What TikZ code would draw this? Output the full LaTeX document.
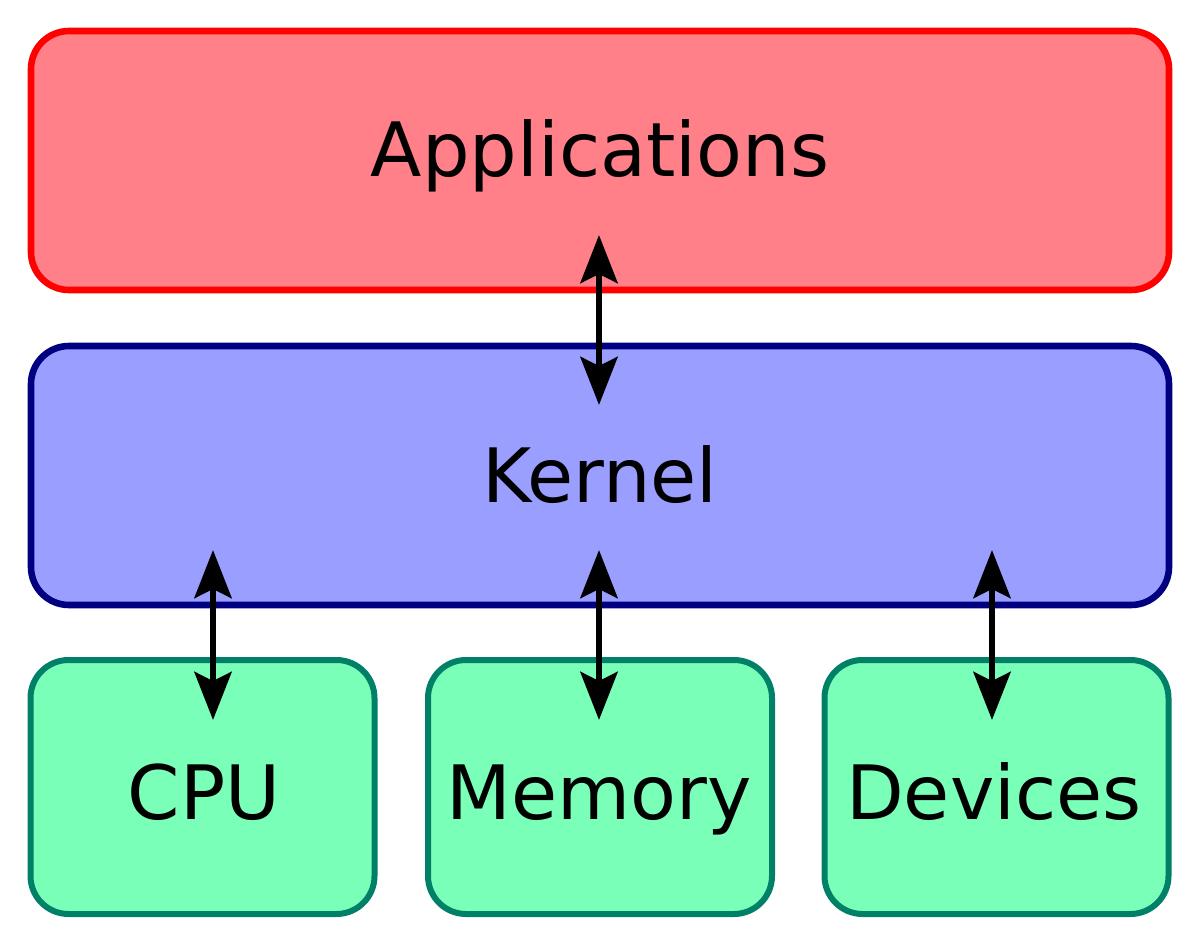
\documentclass[tikz,border=0pt]{standalone}
\usepackage{fontspec}
\setmainfont{DejaVu Sans}
\usetikzlibrary{arrows.meta}
\definecolor{appfill}{RGB}{255,128,136}
\definecolor{appline}{RGB}{255,0,0}
\definecolor{kerfill}{RGB}{153,158,255}
\definecolor{kerline}{RGB}{0,0,128}
\definecolor{hwfill}{RGB}{122,255,184}
\definecolor{hwline}{RGB}{0,128,102}
\tikzset{
  layerbox/.style={rectangle, rounded corners=38pt, inner sep=0pt, outer sep=0pt, line width=6.6pt},
  appbox/.style={layerbox, draw=appline, fill=appfill, minimum width=1138pt, minimum height=259pt},
  kerbox/.style={layerbox, draw=kerline, fill=kerfill, minimum width=1138pt, minimum height=259pt},
  hwbox/.style={layerbox, draw=hwline, fill=hwfill, line width=6pt, minimum width=344pt, minimum height=254pt},
  lbl/.style={anchor=base, inner sep=0pt, font=\fontsize{75}{90}\selectfont},
  biarrow/.style={line width=6.6pt, {Stealth[length=48pt,width=37pt,inset=9pt]}-{Stealth[length=48pt,width=37pt,inset=9pt]}}
}
\begin{document}
\begin{tikzpicture}[x=1pt,y=-1pt]
\useasboundingbox (0,0) rectangle (1200,949);
\node[appbox] (app) at (600,160.5) {};
\node[kerbox] (kern) at (600,475.5) {};
\node[hwbox] (cpu) at (202.5,787) {};
\node[hwbox] (mem) at (600,787) {};
\node[hwbox] (dev) at (996.5,787) {};
\node[lbl] (appT) at (600,177) {Applications};
\node[lbl] (kernT) at (600,502) {Kernel};
\node[lbl] (cpuT) at (204,819) {CPU};
\node[lbl] (memT) at (599,819) {Memory};
\node[lbl] (devT) at (994,819) {Devices};
\coordinate (ak1) at (599,235);
\coordinate (ak2) at (599,405);
\coordinate (kc1) at (213,550);
\coordinate (kc2) at (213,720);
\coordinate (km1) at (599,550);
\coordinate (km2) at (599,720);
\coordinate (kd1) at (992,550);
\coordinate (kd2) at (992,720);
\draw[biarrow] (ak1) -- (ak2);
\draw[biarrow] (kc1) -- (kc2);
\draw[biarrow] (km1) -- (km2);
\draw[biarrow] (kd1) -- (kd2);
\end{tikzpicture}
\end{document}
